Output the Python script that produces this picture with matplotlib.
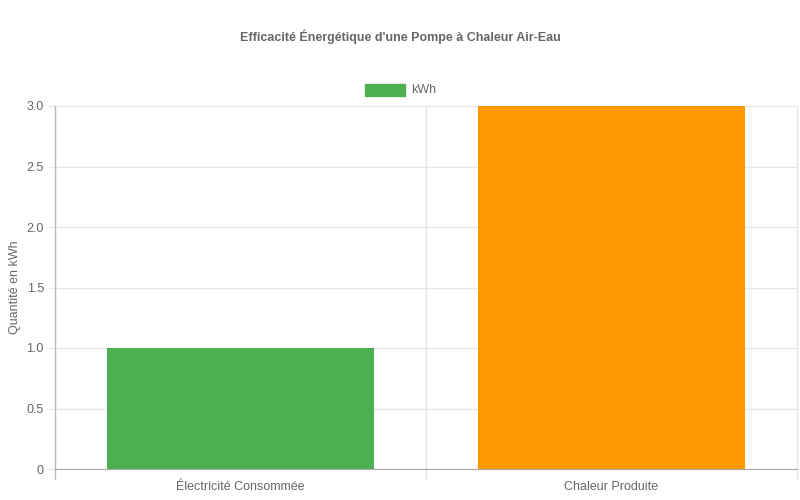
import matplotlib
matplotlib.use("Agg")
import matplotlib.pyplot as plt
from matplotlib.patches import Rectangle

categories = ["Électricité Consommée", "Chaleur Produite"]
values = [1.0, 3.0]
colors = ["#4CAF50", "#FF9800"]
yticks = [0, 0.5, 1.0, 1.5, 2.0, 2.5, 3.0]
ytick_labels = ["0", "0.5", "1.0", "1.5", "2.0", "2.5", "3.0"]

plt.rcParams['font.family'] = ['Liberation Sans', 'DejaVu Sans']
txt = "#666666"
grid = "#e6e6e6"

fig = plt.figure(figsize=(8, 5), dpi=100)
ax = fig.add_axes([55/800, 31/500, 742/800, 363/500])

x = range(len(categories))
ax.bar(x, values, width=0.72, color=colors, zorder=2)

ax.set_xlim(-0.5, len(categories) - 0.5)
ax.set_ylim(0, 3.0)
ax.set_yticks(yticks)
ax.set_yticklabels(ytick_labels)
ax.set_xticks(list(x))
ax.set_xticklabels(categories)
ax.tick_params(axis='x', length=0, pad=9, labelsize=9, labelcolor=txt)
ax.tick_params(axis='y', length=5, color=grid, pad=3, labelsize=9, labelcolor=txt)

# horizontal grid
ax.yaxis.grid(True, color=grid, linewidth=1, zorder=0)
# category boundary lines (offset grid), extending below axis
for b in [-0.5, 0.5, 1.5]:
    ax.plot([b, b], [-10/363*3.0, 3.0], color=grid if b != -0.5 else "#bbbbbb",
            linewidth=1, clip_on=False, zorder=1)

for s in ['top', 'right']:
    ax.spines[s].set_visible(False)
ax.spines['left'].set_color("#bbbbbb")
ax.spines['bottom'].set_color("#aaaaaa")

ax.set_ylabel("Quantité en kWh", color=txt, fontsize=9, labelpad=4)

fig.text(0.5, 1 - 37/500, "Efficacité Énergétique d'une Pompe à Chaleur Air-Eau",
         ha='center', va='center', fontsize=9, fontweight='bold', color=txt)

# legend
fig.patches.append(Rectangle((365/800, 1 - 96/500), 40/800, 12/500,
                             transform=fig.transFigure, facecolor=colors[0],
                             edgecolor=colors[0], figure=fig))
fig.text(411/800, 1 - 90/500, "kWh", ha='left', va='center', fontsize=9, color=txt)

fig.savefig("out.png", dpi=100)
